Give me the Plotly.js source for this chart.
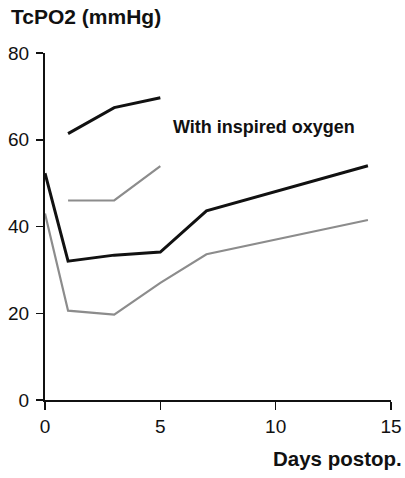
<!DOCTYPE html>
<html>
<head>
<meta charset="utf-8">
<script src="https://cdn.plot.ly/plotly-3.0.1.min.js"></script>
<style>
  html, body { margin: 0; padding: 0; background: #fff; }
  #chart { width: 405px; height: 478px; }
</style>
</head>
<body>
<div id="chart"></div>
<script>
// Transcutaneous oxygen tension after surgery (mmHg), by postoperative day
const days = [0, 1, 3, 5, 7, 14];
const groupA = [52.3, 32, 33.4, 34.1, 43.6, 54];
const groupB = [43, 20.6, 19.7, 27, 33.6, 41.5];

// Measurements taken while breathing supplemental oxygen
const o2Days = [1, 3, 5];
const o2GroupA = [61.4, 67.4, 69.7];
const o2GroupB = [46, 46, 53.9];

const xTicks = [0, 5, 10, 15];
const yTicks = [0, 20, 40, 60, 80];

const FONT = 'Liberation Sans, Arial, Helvetica, sans-serif';
const BLACK = '#111111';
const GREY = '#8c8c8c';

const traces = [
  { x: days, y: groupB, mode: 'lines', line: { color: GREY, width: 2.2 } },
  { x: o2Days, y: o2GroupB, mode: 'lines', line: { color: GREY, width: 2.2 } },
  { x: days, y: groupA, mode: 'lines', line: { color: BLACK, width: 3 } },
  { x: o2Days, y: o2GroupA, mode: 'lines', line: { color: BLACK, width: 3 } }
].map(t => Object.assign({ type: 'scatter', hoverinfo: 'skip', showlegend: false }, t));

const layout = {
  width: 405,
  height: 478,
  margin: { l: 45, r: 14, t: 53, b: 78 },
  paper_bgcolor: '#ffffff',
  plot_bgcolor: '#ffffff',
  font: { family: FONT, color: BLACK },
  showlegend: false,
  xaxis: {
    range: [0, 15],
    tickvals: xTicks,
    ticktext: xTicks.map(String),
    ticks: 'outside', ticklen: 8, tickwidth: 1.5, tickcolor: BLACK,
    showline: true, linecolor: BLACK, linewidth: 2,
    showgrid: false, zeroline: false,
    tickfont: { family: FONT, size: 19, color: BLACK },
    fixedrange: true
  },
  yaxis: {
    range: [0, 80],
    tickvals: yTicks,
    ticktext: yTicks.map(String),
    ticks: 'outside', ticklen: 7, tickwidth: 1.5, tickcolor: BLACK,
    ticklabelstandoff: 3,
    showline: true, linecolor: BLACK, linewidth: 2,
    showgrid: false, zeroline: false,
    tickfont: { family: FONT, size: 19, color: BLACK },
    fixedrange: true
  },
  annotations: [
    {
      text: '<b>TcPO2 (mmHg)</b>', xref: 'paper', yref: 'paper',
      x: -0.104, y: 1.106, xanchor: 'left', yanchor: 'middle', showarrow: false,
      font: { family: FONT, size: 21, color: BLACK }
    },
    {
      text: '<b>Days postop.</b>', xref: 'paper', yref: 'paper',
      x: 1.038, y: -0.168, xanchor: 'right', yanchor: 'middle', showarrow: false,
      font: { family: FONT, size: 20.5, color: BLACK }
    },
    {
      text: '<b>With inspired oxygen</b>', xref: 'x', yref: 'y',
      x: 5.45, y: 62.9, xanchor: 'left', yanchor: 'middle', showarrow: false,
      font: { family: FONT, size: 18, color: BLACK }
    }
  ]
};

Plotly.newPlot('chart', traces, layout, { displayModeBar: false, staticPlot: true });
</script>
</body>
</html>
